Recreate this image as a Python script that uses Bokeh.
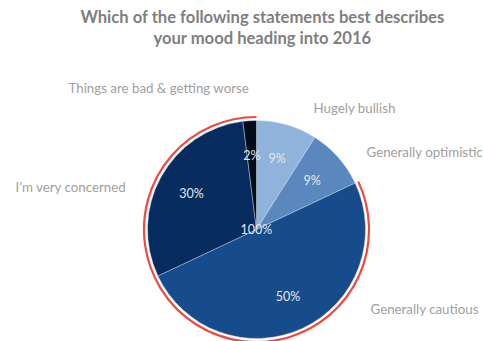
import math
from bokeh.plotting import figure
from bokeh.models import Range1d, ColumnDataSource
from bokeh.core.properties import value
from bokeh.embed import file_html
from bokeh.resources import INLINE

# ---- data ----
categories = ["Hugely bullish", "Generally optimistic", "Generally cautious",
              "I\u2019m very concerned", "Things are bad & getting worse"]
shares = [9, 9, 50, 30, 2]
colors = ["#8fb3da", "#5a87bd", "#174c8c", "#052b5f", "#020b19"]
title_lines = ["Which of the following statements best describes",
               "your mood heading into 2016"]
total_label = "100%"
highlight_from = 2  # highlighted arc covers categories from this index to the end

# ---- layout ----
W, H = 483, 341
CX, CY = 256, H - 229
R = 109
label_pos = [(313, H - 107), (366, H - 151), (370, H - 308), (15, H - 186), (68, H - 87)]

p = figure(width=W, height=H, output_backend="svg", toolbar_location=None,
           x_range=Range1d(0, W), y_range=Range1d(0, H), min_border=0)
p.axis.visible = False
p.grid.visible = False
p.outline_line_color = None
p.background_fill_color = "white"

total = sum(shares)
starts, ends, mids = [], [], []
cum = 0
for s in shares:
    a0 = math.pi / 2 - 2 * math.pi * cum / total
    cum += s
    a1 = math.pi / 2 - 2 * math.pi * cum / total
    starts.append(a0)
    ends.append(a1)
    mids.append((a0 + a1) / 2)

src = ColumnDataSource(dict(start=starts, end=ends, color=colors))
p.wedge(x=CX, y=CY, radius=R, start_angle="start", end_angle="end",
        direction="clock", fill_color="color", line_color="#dfe6ef",
        line_width=0.4, source=src)

# red highlight arc
hl_start = starts[highlight_from]
hl_end = ends[-1]
p.arc(x=CX, y=CY, radius=R + 3.5, start_angle=hl_start, end_angle=hl_end,
      direction="clock", line_color="#ef4a3c", line_width=2.2)

# percent labels
rl = 0.68 * R
px = [CX + rl * math.cos(m) for m in mids]
py = [CY + rl * math.sin(m) for m in mids]
p.text(x=px, y=py, text=[f"{s}%" for s in shares], text_align="center",
       text_baseline="middle", text_color="#e3e8f0", text_font_size="12.5px",
       text_font=value("Lato"))
p.text(x=[CX], y=[CY], text=[total_label], text_align="center",
       text_baseline="middle", text_color="#e3e8f0", text_font_size="12.5px",
       text_font=value("Lato"))

# category labels
p.text(x=[lp[0] for lp in label_pos], y=[lp[1] for lp in label_pos],
       text=categories, text_align="left", text_baseline="middle",
       text_color="#a0a0a0", text_font_size="13.3px", text_font=value("Lato"))

# title
p.text(x=[262, 262], y=[H - 16, H - 37], text=title_lines, text_align="center",
       text_baseline="middle", text_color="#7f7f7f", text_font_size="16.6px",
       text_font_style="bold", text_font=value("Lato"))

open("out.html", "w").write(file_html(p, INLINE))
